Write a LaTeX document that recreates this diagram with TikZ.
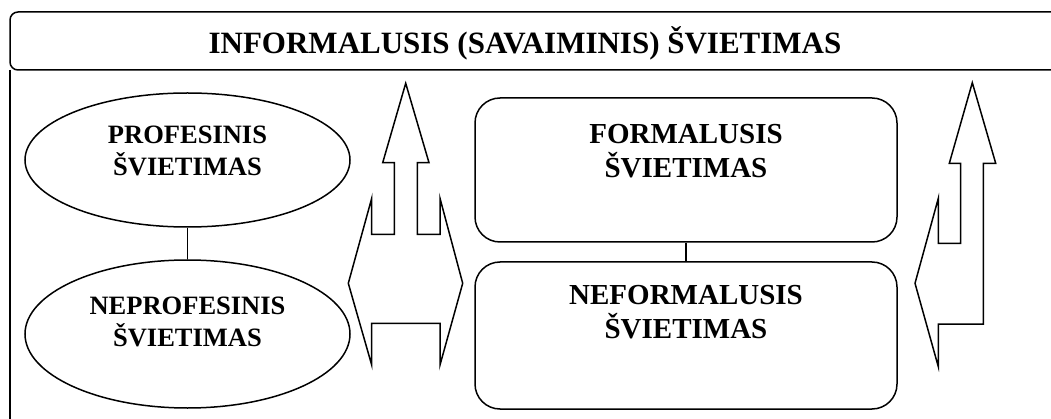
\documentclass[tikz,border=0pt]{standalone}
\usepackage{fontspec}
\setmainfont{Liberation Serif}
\usetikzlibrary{shapes.geometric}

\begin{document}
\begin{tikzpicture}[x=1pt, y=-1pt, line width=1.5pt, line join=miter,
  every node/.style={inner sep=0pt},
  oval/.style={draw, ellipse, minimum width=325pt, minimum height=#1},
  roundbox/.style={draw, rounded corners=25pt, minimum width=422pt, minimum height=#1},
  titletext/.style={font=\bfseries\fontsize{31}{37}\selectfont},
  ovaltext/.style={align=center, font=\bfseries\fontsize{26.5}{31.7}\selectfont},
  boxtext/.style={align=center, font=\bfseries\fontsize{29}{34}\selectfont}]
  \clip (0,0) rectangle (1051,419);
  % frame and title
  \draw[rounded corners=8pt] (10,12) rectangle (1075,70);
  \draw (10,70) -- (10,430);
  \node[titletext, anchor=base] (title) at (525,54) {INFORMALUSIS (SAVAIMINIS) ŠVIETIMAS};
  % left pair
  \node[oval=134pt] (prof) at (187.5,160) {};
  \node[oval=148pt] (neprof) at (187.5,334) {};
  \node[ovaltext] (proftxt) at (187.5,151) {PROFESINIS\\ŠVIETIMAS};
  \node[ovaltext] (neproftxt) at (187.5,322) {NEPROFESINIS\\ŠVIETIMAS};
  \draw (prof.south) -- (neprof.north);
  % right pair
  \node[roundbox=144pt] (formal) at (686,170) {};
  \node[roundbox=147pt] (neformal) at (686,335.5) {};
  \node[boxtext] (formaltxt) at (686,151) {FORMALUSIS\\ŠVIETIMAS};
  \node[boxtext] (neformaltxt) at (686,312) {NEFORMALUSIS\\ŠVIETIMAS};
  \draw (formal.south) -- (neformal.north);
  % block arrows
  \draw (394.3,234.3) -- (394.3,162.7) -- (382.7,162.7) -- (405.7,83.3) -- (429,162.7)
    -- (417.3,162.7) -- (417.3,234.3) -- (440,234.3) -- (440,198.3) -- (462.7,283.3)
    -- (440,365) -- (440,323.3) -- (371.7,323.3) -- (371.7,365) -- (348.3,283.3)
    -- (371.7,198.3) -- (371.7,234.3) -- cycle;
  \draw (960.7,243.3) -- (960.7,163.3) -- (949.3,163.3) -- (972.3,82.7) -- (995.7,163.3)
    -- (983.3,163.3) -- (983.3,324) -- (938.3,324) -- (938.3,366.7) -- (915,283.3)
    -- (938.3,198.3) -- (938.3,243.3) -- cycle;
\end{tikzpicture}
\end{document}
